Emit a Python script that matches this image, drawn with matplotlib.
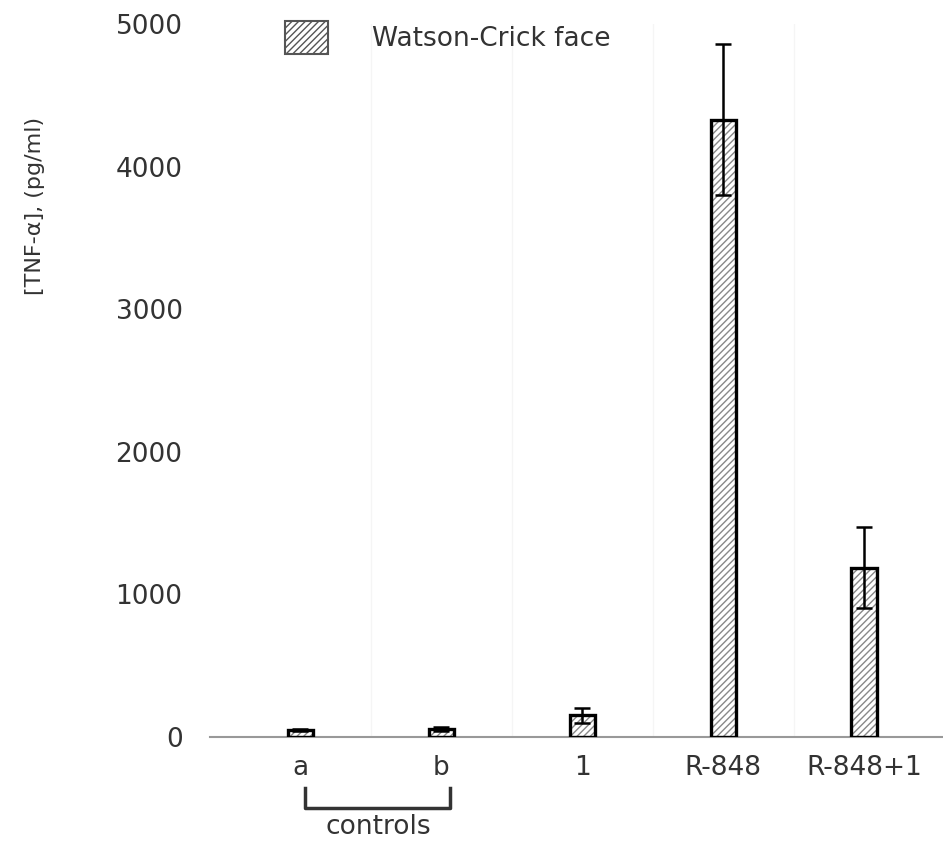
import matplotlib.pyplot as plt
from matplotlib.patches import Patch

categories = ["a", "b", "1", "R-848", "R-848+1"]
tnf = [50, 55, 150, 4330, 1185]
err = [8, 15, 50, 530, 285]

plt.rcParams['hatch.linewidth'] = 1.0

fig = plt.figure(figsize=(9.43, 8.43), dpi=100)
ax = fig.add_axes([0.223, 0.126, 0.777, 0.8455])

x = list(range(len(categories)))
w = 0.18

# hatch in grey, outline in black
ax.bar(x, tnf, width=w, color="white", edgecolor="#888888", hatch="/////", linewidth=0, zorder=2)
ax.bar(x, tnf, width=w, fill=False, edgecolor="black", linewidth=2.4, zorder=3)
ax.errorbar(x, tnf, yerr=err, fmt="none", ecolor="black", elinewidth=1.8, capsize=6, capthick=1.8, zorder=4)

# faint separators
for i in range(len(categories) - 1):
    ax.axvline(i + 0.5, color="#f5f5f5", linewidth=1, zorder=0)

ax.set_xlim(-0.64, 4.56)
ax.set_ylim(0, 5000)
ax.set_yticks([0, 1000, 2000, 3000, 4000, 5000])
ax.set_xticks(x)
ax.set_xticklabels(categories)
ax.tick_params(axis="both", length=0, labelsize=19, labelcolor="#333333")
ax.tick_params(axis="y", pad=20)
ax.tick_params(axis="x", pad=13)

for s in ["top", "right", "left"]:
    ax.spines[s].set_visible(False)
ax.spines["bottom"].set_color("#999999")
ax.spines["bottom"].set_linewidth(1.5)

ax.set_ylabel("[TNF-α], (pg/ml)", fontsize=16, color="#333333")
ax.yaxis.set_label_coords(-0.226, 0.745)

# controls bracket under a and b
tr = ax.get_xaxis_transform()
ax.plot([0.03, 0.03, 1.06, 1.06], [-0.072, -0.1, -0.1, -0.072], color="#333333",
        linewidth=2.5, transform=tr, clip_on=False)
ax.text(0.55, -0.127, "controls", transform=tr, ha="center", va="center", fontsize=19, color="#333333")

handle = Patch(facecolor="white", edgecolor="#555555", hatch="/////", linewidth=1.5)
ax.legend([handle], ["Watson-Crick face"], loc="upper left", bbox_to_anchor=(0.07, 1.037),
          frameon=False, fontsize=19, handlelength=1.6, handleheight=1.5, handletextpad=1.7,
          labelcolor="#333333")

fig.savefig("out.png", dpi=100)
